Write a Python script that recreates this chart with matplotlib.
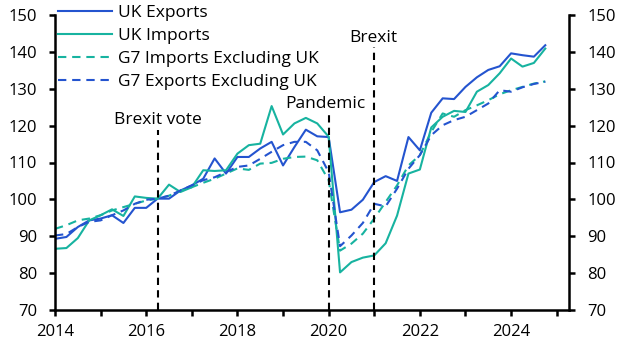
import matplotlib.pyplot as plt
import numpy as np
from matplotlib.ticker import MultipleLocator

plt.rcParams['font.family'] = ['Open Sans', 'DejaVu Sans']

# quarterly, 2014 Q1 .. 2024 Q4
quarters = 2014 + np.arange(44) * 0.25

uk_exports = [89.3, 89.8, 92.5, 94.3, 94.8, 95.7, 93.6, 97.7, 97.7, 100.2,
              100.2, 102.4, 103.8, 105.6, 111.1, 107.0, 111.5, 111.5, 113.8, 115.6,
              109.2, 114.2, 118.9, 117.1, 116.9, 96.5, 97.2, 99.9, 104.7, 106.3,
              105.0, 116.9, 113.3, 123.5, 127.4, 127.2, 130.5, 133.1, 135.1, 136.1,
              139.6, 139.1, 138.7, 141.8]
uk_imports = [86.6, 86.8, 89.5, 94.3, 95.7, 97.3, 95.5, 100.8, 100.4, 100.2,
              104.0, 102.0, 103.3, 107.9, 107.7, 107.9, 112.4, 114.7, 115.1, 125.3,
              117.6, 120.6, 122.1, 120.6, 117.0, 80.2, 83.0, 84.2, 84.8, 88.1,
              95.6, 107.0, 108.1, 119.5, 122.4, 124.0, 123.7, 129.2, 131.0, 134.2,
              138.2, 136.0, 137.0, 140.9]
g7_imports = [92.0, 93.0, 94.3, 94.8, 95.7, 97.0, 97.9, 98.8, 99.7, 100.2,
              101.0, 102.3, 103.3, 104.5, 105.6, 107.0, 108.4, 108.0, 109.7, 109.9,
              111.0, 111.5, 111.6, 110.6, 105.2, 86.1, 88.0, 90.7, 94.8, 99.3,
              103.8, 109.2, 112.0, 118.3, 123.3, 122.4, 124.2, 125.5, 126.9, 128.5,
              129.6, 130.5, 131.4, 132.0]
g7_exports = [90.2, 90.6, 92.5, 93.9, 94.3, 95.7, 97.0, 98.8, 99.9, 100.2,
              101.0, 102.4, 103.8, 105.2, 106.0, 107.4, 108.8, 109.2, 111.0, 112.9,
              114.7, 115.6, 115.6, 113.3, 107.4, 87.3, 90.2, 93.6, 98.8, 98.1,
              102.9, 108.3, 112.0, 117.4, 120.1, 121.5, 122.4, 124.2, 126.0, 129.6,
              129.2, 130.4, 131.3, 131.9]

events = ['Brexit vote', 'Pandemic', 'Brexit']
event_x = [2016.25, 2020.0, 2021.0]
event_top = [118.8, 123.6, 141.3]
label_x = [2016.25, 2019.93, 2020.97]
label_y = [119.3, 123.8, 141.6]

blue = '#2454cf'
teal = '#17b3a0'

fig = plt.figure(figsize=(6.27, 3.53), dpi=100)
ax = fig.add_axes([55/627, 1-310/353, (569-55)/627, (310-15)/353])

ax.plot(quarters, uk_exports, color=blue, lw=1.5, label='UK Exports')
ax.plot(quarters, uk_imports, color=teal, lw=1.5, label='UK Imports')
ax.plot(quarters, g7_imports, color=teal, lw=1.5, ls=(0, (4, 2.8)), label='G7 Imports Excluding UK')
ax.plot(quarters, g7_exports, color=blue, lw=1.5, ls=(0, (4, 2.8)), label='G7 Exports Excluding UK')

for name, x, top, lx, ly in zip(events, event_x, event_top, label_x, label_y):
    ax.plot([x, x], [70, top], color='black', lw=1.5, ls=(0, (3.5, 2.5)))
    ax.text(lx, ly, name, ha='center', va='bottom', fontsize=12.5)

ax.set_xlim(2014, 2025.27)
ax.set_ylim(70, 150)
ax.xaxis.set_major_locator(MultipleLocator(2))
ax.xaxis.set_minor_locator(MultipleLocator(1))
ax.yaxis.set_major_locator(MultipleLocator(10))
ax.xaxis.set_major_formatter(lambda v, p: f'{int(v)}')

ax.spines['top'].set_visible(False)
for side in ['left', 'right', 'bottom']:
    ax.spines[side].set_linewidth(1.8)

ax.tick_params(axis='both', which='both', width=1.8, length=4, labelsize=12, direction='out')
ax.tick_params(axis='y', left=True, right=True, labelleft=True, labelright=True, pad=9)
ax.tick_params(axis='x', which='both', pad=6)

ax.legend(loc='upper left', bbox_to_anchor=(58/627, 1-5/353), bbox_transform=fig.transFigure,
          frameon=False, fontsize=12.5, handlelength=3.1, handletextpad=0.35,
          labelspacing=0.39, borderpad=0, borderaxespad=0)

fig.savefig('out.png', dpi=100)
